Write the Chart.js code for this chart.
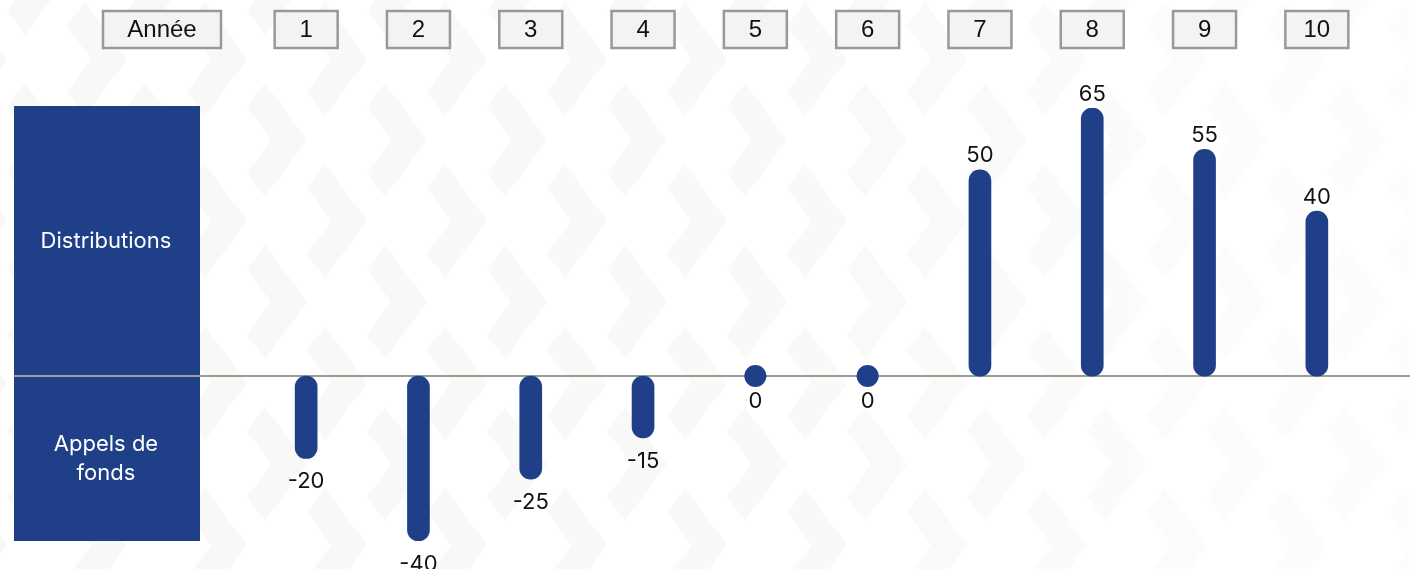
<!DOCTYPE html>
<html lang="fr">
<head>
<meta charset="utf-8">
<title>Distributions et appels de fonds</title>
<script src="https://cdn.jsdelivr.net/npm/chart.js@4/dist/chart.umd.min.js"></script>
<style>
    html, body { margin: 0; padding: 0; background: #ffffff; overflow: hidden; }
    #wrap { position: relative; width: 1410px; height: 569px; }
    canvas { display: block; }
</style>
</head>
<body>
<div id="wrap"><canvas id="cashChart" width="1410" height="569"></canvas></div>
<script>
// --- Data ---
const years = ['1', '2', '3', '4', '5', '6', '7', '8', '9', '10'];
const flows = [-20, -40, -25, -15, 0, 0, 50, 65, 55, 40];
const headerLabel = 'Année';
const topLabel = ['Distributions'];
const bottomLabel = ['Appels de', 'fonds'];

const navy = '#1f4088';

// faint chevrons behind everything
const chevronBg = {
    id: 'chevronBg',
    beforeDraw(chart) {
        const ctx = chart.ctx;
        ctx.save();
        ctx.fillStyle = '#ffffff';
        ctx.fillRect(0, 0, chart.width, chart.height);
        const grad = ctx.createLinearGradient(0, 0, chart.width, 0);
        grad.addColorStop(0, '#f8f8f7');
        grad.addColorStop(0.6, '#f9f9f8');
        grad.addColorStop(1, '#fdfdfd');
        ctx.fillStyle = grad;
        for (let col = -2; col < 26; col++) {
            const x = col * 60 + 7;
            const shift = (col % 2 === 0) ? 0 : 81;
            for (let row = -2; row < 6; row++) {
                const y = row * 162 + shift + 83;
                ctx.beginPath();
                ctx.moveTo(x + 18, y);
                ctx.lineTo(x + 60, y + 57);
                ctx.lineTo(x + 18, y + 114);
                ctx.lineTo(x, y + 90);
                ctx.lineTo(x + 24, y + 57);
                ctx.lineTo(x, y + 24);
                ctx.closePath();
                ctx.fill();
            }
        }
        ctx.restore();
    }
};

// side panel, zero line, header boxes and value labels
const decorations = {
    id: 'decorations',
    beforeDatasetsDraw(chart) {
        const ctx = chart.ctx;
        const yScale = chart.scales.y;
        const zero = yScale.getPixelForValue(0);
        ctx.save();
        ctx.fillStyle = navy;
        ctx.fillRect(14, 106, 186, 435);

        ctx.fillStyle = '#ffffff';
        ctx.font = '22px Inter, "Noto Sans", sans-serif';
        ctx.textAlign = 'center';
        ctx.textBaseline = 'middle';
        topLabel.forEach((t, i) => ctx.fillText(t, 106, 241 + i * 29));
        bottomLabel.forEach((t, i) => ctx.fillText(t, 106, 444 + i * 29));

        ctx.strokeStyle = '#9c9c96';
        ctx.lineWidth = 2;
        ctx.beginPath();
        ctx.moveTo(14, zero);
        ctx.lineTo(chart.width, zero);
        ctx.stroke();
        ctx.restore();
    },
    afterDraw(chart) {
        const ctx = chart.ctx;
        const xScale = chart.scales.x;
        const yScale = chart.scales.y;
        ctx.save();

        // header boxes
        const box = (cx, w, text) => {
            ctx.fillStyle = '#f3f3f2';
            ctx.fillRect(cx - w / 2, 11, w, 37);
            ctx.strokeStyle = '#999999';
            ctx.lineWidth = 2.5;
            ctx.strokeRect(cx - w / 2, 11, w, 37);
            ctx.fillStyle = '#111111';
            ctx.font = '24px "Liberation Sans", Arial, sans-serif';
            ctx.textAlign = 'center';
            ctx.textBaseline = 'middle';
            ctx.fillText(text, cx, 30);
        };
        box(162, 118, headerLabel);
        years.forEach((y, i) => box(xScale.getPixelForValue(i), 63, y));

        // value labels
        ctx.fillStyle = '#111111';
        ctx.font = '22px Inter, "Noto Sans", sans-serif';
        ctx.textAlign = 'center';
        flows.forEach((v, i) => {
            const x = xScale.getPixelForValue(i);
            const y = yScale.getPixelForValue(v);
            if (v > 0) {
                ctx.textBaseline = 'bottom';
                ctx.fillText(String(v), x, y - 3);
            } else {
                ctx.textBaseline = 'top';
                ctx.fillText(String(v), x, y + (v === 0 ? 14 : 12));
            }
        });
        ctx.restore();
    }
};

new Chart(document.getElementById('cashChart'), {
    type: 'bar',
    data: {
        labels: years,
        datasets: [{
            type: 'bar',
            data: flows,
            backgroundColor: navy,
            barThickness: 22,
            borderRadius: 11,
            borderSkipped: false,
            order: 2
        }, {
            // zero years drawn as dots on the line
            type: 'line',
            data: flows,
            showLine: false,
            pointRadius: ctx => (flows[ctx.dataIndex] === 0 ? 11 : 0),
            pointHoverRadius: 0,
            pointBackgroundColor: navy,
            pointBorderWidth: 0,
            order: 1
        }]
    },
    options: {
        responsive: false,
        animation: false,
        devicePixelRatio: 1,
        layout: { padding: { top: 108, bottom: 28, left: 250, right: 37 } },
        plugins: { legend: { display: false }, tooltip: { enabled: false } },
        scales: {
            x: { display: false, offset: true },
            y: { display: false, min: -40, max: 65 }
        }
    },
    plugins: [chevronBg, decorations]
});
</script>
</body>
</html>
